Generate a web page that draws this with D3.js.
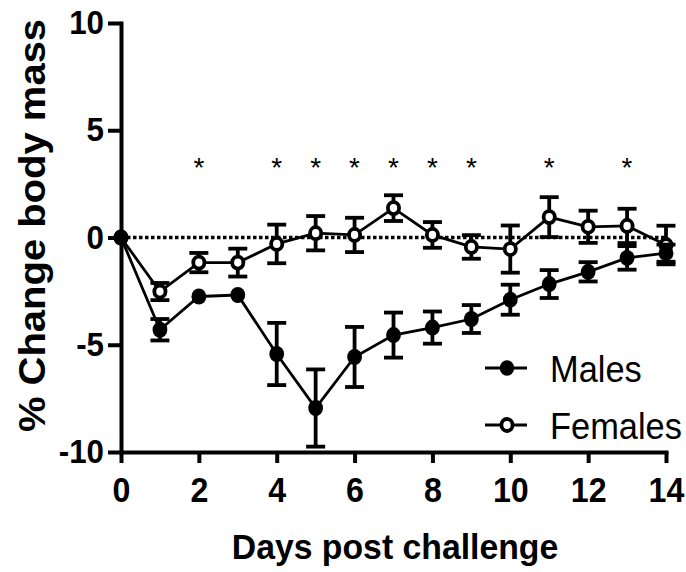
<!DOCTYPE html>
<html>
<head>
<meta charset="utf-8">
<script src="https://cdn.jsdelivr.net/npm/d3@7"></script>
<style>
  body { margin: 0; background: #fff; }
  svg { display: block; }
</style>
</head>
<body>
<svg id="chart" width="686" height="572"></svg>
<script>
// Days after challenge
const days = [0, 1, 2, 3, 4, 5, 6, 7, 8, 9, 10, 11, 12, 13, 14];

// Mean % change in body mass and SEM, males
const maleMean = [0, -4.3, -2.75, -2.68, -5.43, -7.95, -5.57, -4.55, -4.2, -3.8, -2.9, -2.17, -1.6, -0.95, -0.73];
const maleErr  = [0, 0.5, 0.15, 0.12, 1.45, 1.8, 1.4, 1.05, 0.75, 0.65, 0.7, 0.65, 0.45, 0.55, 0.4];

// Mean % change in body mass and SEM, females
const femaleMean = [0, -2.52, -1.17, -1.17, -0.3, 0.2, 0.12, 1.37, 0.12, -0.44, -0.54, 0.95, 0.5, 0.54, -0.35];
const femaleErr  = [0, 0.4, 0.45, 0.65, 0.9, 0.8, 0.8, 0.6, 0.6, 0.55, 1.1, 0.93, 0.75, 0.8, 0.9];

// Days with a significant difference between sexes
const starDays = [2, 4, 5, 6, 7, 8, 9, 11, 13];
const starLevel = 3.6;

const xTicks = [0, 2, 4, 6, 8, 10, 12, 14];
const yTicks = [-10, -5, 0, 5, 10];
const seriesNames = ["Males", "Females"];

const FONT = "'Liberation Sans', Arial, Helvetica, sans-serif";
const svg = d3.select("#chart");

const x = d3.scaleLinear().domain([0, 14]).range([121, 666]);
const y = d3.scaleLinear().domain([-10, 10]).range([452, 23]);

// ---- axes ----
const yAxisG = svg.append("g")
  .attr("transform", `translate(${x(0)},0)`)
  .call(d3.axisLeft(y).tickValues(yTicks).tickFormat(d => String(d))
    .tickSize(13).tickSizeOuter(0).tickPadding(4));

const xAxisG = svg.append("g")
  .attr("transform", `translate(0,${y(-10)})`)
  .call(d3.axisBottom(x).tickValues(xTicks).tickFormat(d => String(d))
    .tickSize(11).tickSizeOuter(0).tickPadding(14));

[yAxisG, xAxisG].forEach(g => {
  g.select(".domain").attr("stroke", "#000").attr("stroke-width", 4).attr("stroke-linecap", "square");
  g.selectAll(".tick line").attr("stroke", "#000").attr("stroke-width", 4);
  g.selectAll(".tick text")
    .attr("fill", "#000")
    .attr("font-family", FONT)
    .attr("font-weight", "bold");
});

const kY = 0.95;
yAxisG.selectAll(".tick text")
  .attr("font-size", 33)
  .attr("x", -17 / kY)
  .attr("transform", `scale(${kY},1)`);

const kX = 0.92;
xAxisG.selectAll(".tick text")
  .attr("font-size", 35)
  .attr("transform", `scale(${kX},1)`);

// ---- axis titles ----
svg.append("text")
  .attr("transform", `translate(395,559) scale(0.965,1)`)
  .attr("text-anchor", "middle")
  .attr("font-family", FONT)
  .attr("font-weight", "bold")
  .attr("font-size", 35)
  .text("Days post challenge");

svg.append("text")
  .attr("transform", `translate(45,225.5) scale(0.94,1) rotate(-90)`)
  .attr("text-anchor", "middle")
  .attr("font-family", FONT)
  .attr("font-weight", "bold")
  .attr("font-size", 40)
  .text("% Change body mass");

// ---- dotted zero reference ----
svg.append("line")
  .attr("x1", x(0)).attr("x2", x(14))
  .attr("y1", y(0)).attr("y2", y(0))
  .attr("stroke", "#000")
  .attr("stroke-width", 3.5)
  .attr("stroke-dasharray", "3.5,2.5");

// ---- significance stars ----
svg.append("g").selectAll("text")
  .data(starDays)
  .join("text")
  .attr("x", d => x(d))
  .attr("y", y(starLevel))
  .attr("dy", "0.58em")
  .attr("text-anchor", "middle")
  .attr("font-family", FONT)
  .attr("font-size", 28)
  .attr("fill", "#000")
  .text("*");

// ---- series ----
const CAP = 9.5;
function drawSeries(mean, err, filled) {
  const ry = filled ? 7.8 : 7.8;
  const pts = days.map((d, i) => ({ d, m: mean[i], e: err[i] }));
  const g = svg.append("g");

  g.append("path")
    .datum(pts)
    .attr("d", d3.line().x(p => x(p.d)).y(p => y(p.m)))
    .attr("fill", "none")
    .attr("stroke", "#000")
    .attr("stroke-width", 2.8);

  // error bars shorter than the symbol are hidden behind it
  const eb = g.selectAll("g.eb")
    .data(pts.filter(p => y(p.m - p.e) - y(p.m) > ry))
    .join("g")
    .attr("class", "eb")
    .attr("stroke", "#000")
    .attr("stroke-width", 3.8);

  eb.append("line")
    .attr("x1", p => x(p.d)).attr("x2", p => x(p.d))
    .attr("y1", p => y(p.m + p.e)).attr("y2", p => y(p.m - p.e));
  eb.append("line")
    .attr("x1", p => x(p.d) - CAP).attr("x2", p => x(p.d) + CAP)
    .attr("y1", p => y(p.m + p.e)).attr("y2", p => y(p.m + p.e));
  eb.append("line")
    .attr("x1", p => x(p.d) - CAP).attr("x2", p => x(p.d) + CAP)
    .attr("y1", p => y(p.m - p.e)).attr("y2", p => y(p.m - p.e));

  g.selectAll("ellipse")
    .data(pts)
    .join("ellipse")
    .attr("cx", p => x(p.d))
    .attr("cy", p => y(p.m))
    .attr("rx", filled ? 7.4 : 5.6)
    .attr("ry", filled ? 8 : 6)
    .attr("fill", filled ? "#000" : "#fff")
    .attr("stroke", "#000")
    .attr("stroke-width", filled ? 0 : 3.8);
}

drawSeries(femaleMean, femaleErr, false);
drawSeries(maleMean, maleErr, true);

// ---- legend ----
const legend = svg.append("g");
const legendRows = legend.selectAll("g")
  .data(seriesNames)
  .join("g")
  .attr("transform", (d, i) => `translate(0,${368 + i * 57})`);

legendRows.append("line")
  .attr("x1", 485).attr("x2", 527)
  .attr("y1", 0).attr("y2", 0)
  .attr("stroke", "#000").attr("stroke-width", 2.8);

legendRows.append("ellipse")
  .attr("cx", 507).attr("cy", 0)
  .attr("rx", (d, i) => i === 0 ? 7.2 : 5.6)
  .attr("ry", (d, i) => i === 0 ? 7.8 : 6)
  .attr("fill", (d, i) => i === 0 ? "#000" : "#fff")
  .attr("stroke", "#000")
  .attr("stroke-width", (d, i) => i === 0 ? 0 : 3.8);

legendRows.append("text")
  .attr("transform", "translate(550,13.5) scale(0.93,1)")
  .attr("font-family", FONT)
  .attr("font-size", 37)
  .attr("fill", "#000")
  .text(d => d);
</script>
</body>
</html>
